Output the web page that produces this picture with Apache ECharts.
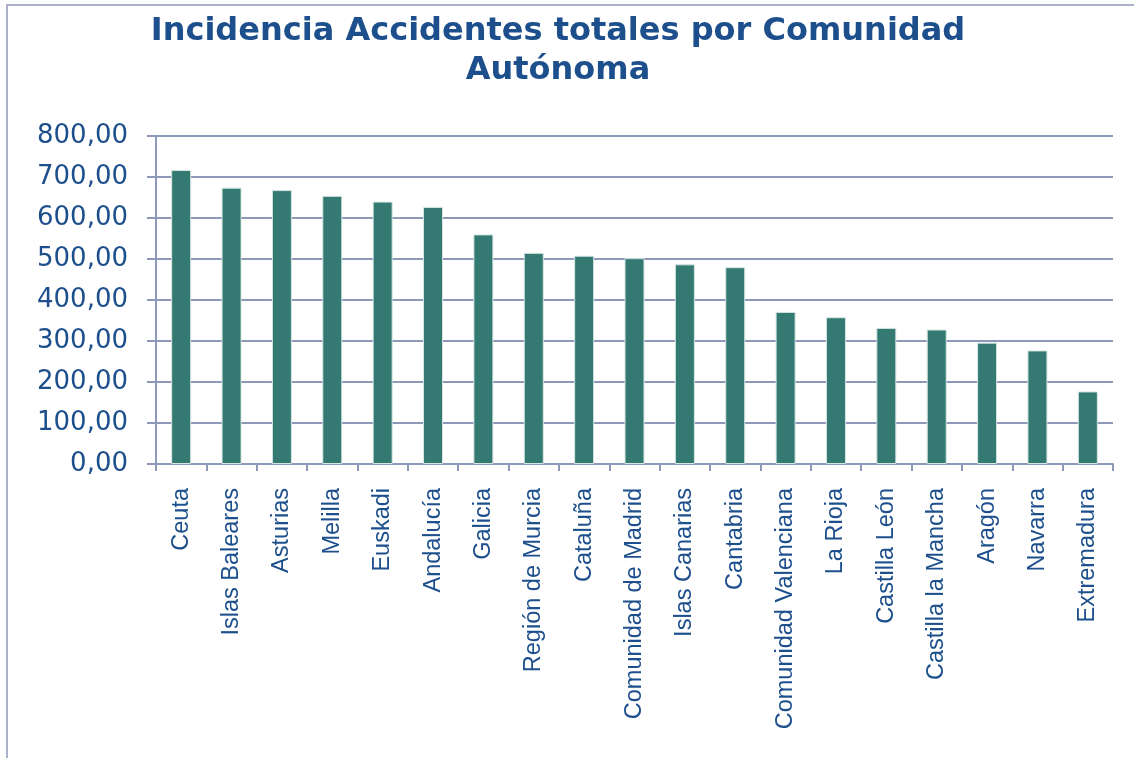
<!DOCTYPE html>
<html>
<head>
<meta charset="utf-8">
<title>Incidencia Accidentes totales por Comunidad Autónoma</title>
<script src="https://cdn.jsdelivr.net/npm/echarts@6/dist/echarts.min.js"></script>
<style>
  html, body { margin: 0; padding: 0; background: #fff; }
  #chart { width: 1134px; height: 758px; }
</style>
</head>
<body>
<div id="chart"></div>
<script>
// datos
const comunidades = [
  'Ceuta', 'Islas Baleares', 'Asturias', 'Melilla', 'Euskadi', 'Andalucía',
  'Galicia', 'Región de Murcia', 'Cataluña', 'Comunidad de Madrid',
  'Islas Canarias', 'Cantabria', 'Comunidad Valenciana', 'La Rioja',
  'Castilla León', 'Castilla la Mancha', 'Aragón', 'Navarra', 'Extremadura'
]
const incidencia = [
  717, 674, 668, 654, 640, 627,
  560, 515, 508, 502,
  487, 480, 371, 358,
  332, 328, 296, 277, 177
]
const yTicks = [0, 100, 200, 300, 400, 500, 600, 700, 800]

const textColor = '#1d4f8c'
const lineColor = '#8e98b8'

const chart = echarts.init(document.getElementById('chart'))

chart.setOption({
  animation: false,
  title: {
    text: 'Incidencia Accidentes totales por Comunidad\nAutónoma',
    left: 553,
    top: 7,
    textAlign: 'center',
    textStyle: {
      fontFamily: 'DejaVu Sans',
      fontWeight: 'bold',
      fontSize: 32,
      lineHeight: 39,
      color: textColor
    }
  },
  // marco del grafico: solo se ven el borde izquierdo y el superior
  graphic: [{
    type: 'polyline',
    shape: { points: [[7, 758], [7, 5], [1134, 5]] },
    style: { fill: null, stroke: lineColor, lineWidth: 1.5 },
    silent: true
  }],
  grid: {
    left: 156,
    right: 21,
    top: 136,
    bottom: 294
  },
  xAxis: {
    type: 'category',
    data: comunidades,
    boundaryGap: true,
    axisLine: { lineStyle: { color: lineColor, width: 2 } },
    axisTick: { show: true, length: 7, lineStyle: { color: lineColor, width: 2 } },
    axisLabel: {
      rotate: 90,
      interval: 0,
      margin: 24,
      fontFamily: 'Liberation Sans',
      fontSize: 23.5,
      color: textColor
    }
  },
  yAxis: {
    type: 'value',
    min: yTicks[0],
    max: yTicks[yTicks.length - 1],
    interval: 100,
    axisLine: { show: true, lineStyle: { color: lineColor, width: 2 } },
    axisTick: { show: true, length: 9, lineStyle: { color: lineColor, width: 2 } },
    splitLine: { lineStyle: { color: lineColor, width: 2 } },
    axisLabel: {
      margin: 28,
      fontFamily: 'DejaVu Sans',
      fontSize: 26,
      color: textColor,
      formatter: v => v.toFixed(2).replace('.', ',')
    }
  },
  series: [{
    type: 'bar',
    data: incidencia,
    barWidth: 20,
    itemStyle: {
      color: '#347a72',
      borderColor: '#d6e6e3',
      borderWidth: 1
    }
  }]
})
</script>
</body>
</html>
